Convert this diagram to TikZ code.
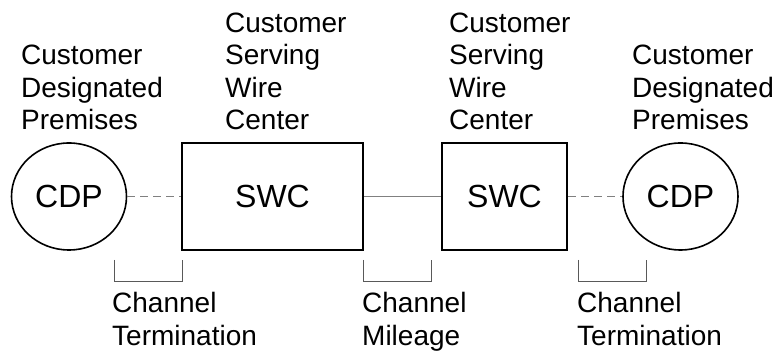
\documentclass[tikz,border=0pt]{standalone}
\usepackage{fontspec}
\setmainfont{Liberation Sans}
\usetikzlibrary{shapes.geometric}

\tikzset{
  premises/.style={draw, ellipse, line width=1.6pt, inner sep=0pt,
    minimum width=115pt, minimum height=107pt,
    font=\fontsize{32}{38}\selectfont},
  wirecenter/.style={draw, rectangle, line width=2pt, inner sep=0pt,
    minimum height=107pt, font=\fontsize{32}{38}\selectfont},
  caption/.style={anchor=base west, inner sep=0pt, align=left,
    font=\fontsize{28}{32.5}\selectfont},
  loop line/.style={gray, line width=1pt},
  dashed loop/.style={loop line, dash pattern=on 8pt off 5pt},
  bracket/.style={black!65, line width=1pt}
}

\begin{document}
\begin{tikzpicture}[x=1pt,y=1pt]
  \useasboundingbox (0,0) rectangle (776,352);

  % offices and premises
  \node[premises] (cdpL) at (69,155.5) {CDP};
  \node[wirecenter, minimum width=181pt] (swcL) at (272.5,155.5) {SWC};
  \node[wirecenter, minimum width=125pt] (swcR) at (504.5,155.5) {SWC};
  \node[premises] (cdpR) at (680.5,155.5) {CDP};

  \draw[dashed loop] (cdpL) -- (swcL);
  \draw[loop line] (swcL) -- (swcR);
  \draw[dashed loop] (swcR) -- (cdpR);

  % labels on top (base = last line)
  \node[caption] (capCdpL) at (21,222) {Customer\\Designated\\Premises};
  \node[caption] (capSwcL) at (225,222) {Customer\\Serving\\Wire\\Center};
  \node[caption] (capSwcR) at (449,222) {Customer\\Serving\\Wire\\Center};
  \node[caption] (capCdpR) at (632,222) {Customer\\Designated\\Premises};

  % brackets below
  \foreach \x in {114,363,578}{
    \draw[bracket] (\x,92) -- (\x,70) -- (\x+68,70) -- (\x+68,92);
  }
  \node[caption] (capTermL) at (112,6.5) {Channel\\Termination};
  \node[caption] (capMile) at (362,6.5) {Channel\\Mileage};
  \node[caption] (capTermR) at (577,6.5) {Channel\\Termination};
\end{tikzpicture}
\end{document}
